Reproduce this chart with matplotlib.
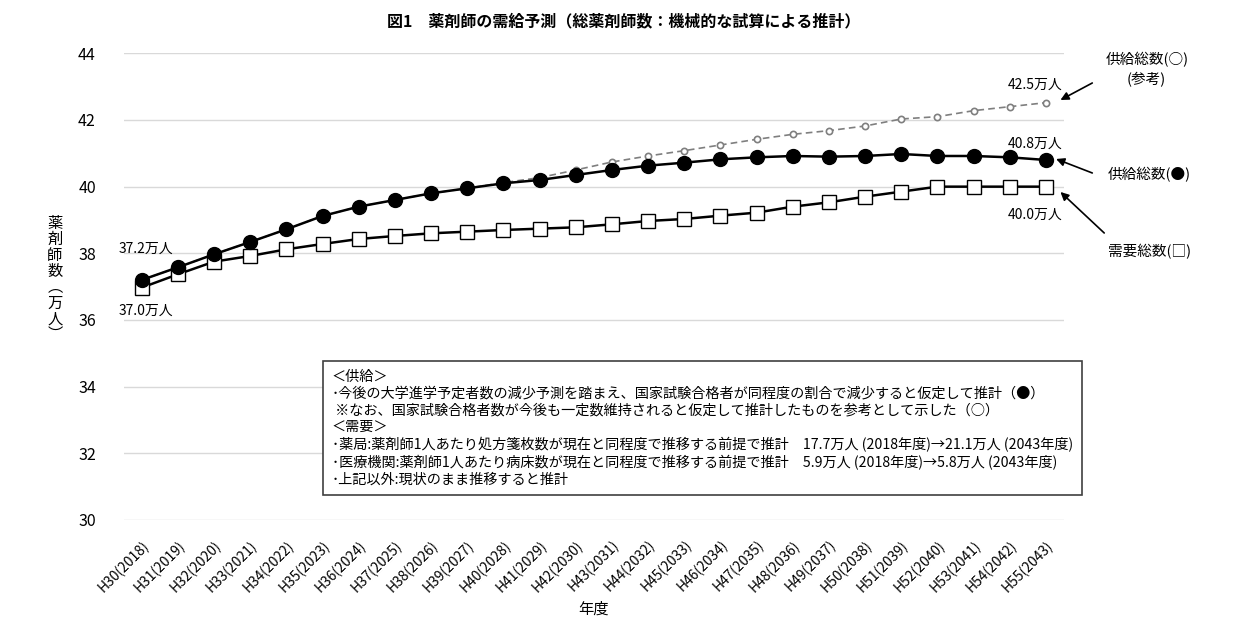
import numpy as np
import matplotlib
matplotlib.use("Agg")
import matplotlib.pyplot as plt

plt.rcParams["font.family"] = ["Noto Sans CJK JP", "DejaVu Sans"]

# データ（万人）
heisei = list(range(30, 56))
seireki = list(range(2018, 2044))
tick_labels = [f"H{h}({y})" for h, y in zip(heisei, seireki)]

supply = [37.2, 37.58, 37.97, 38.34, 38.72, 39.12, 39.40, 39.60, 39.80, 39.95,
          40.10, 40.20, 40.35, 40.50, 40.63, 40.72, 40.82, 40.88, 40.92, 40.90,
          40.92, 40.98, 40.92, 40.92, 40.88, 40.80]
supply_ref = [37.2, 37.58, 37.97, 38.34, 38.72, 39.12, 39.40, 39.60, 39.80, 39.95,
              40.12, 40.27, 40.50, 40.74, 40.92, 41.08, 41.25, 41.42, 41.57, 41.68,
              41.82, 42.03, 42.10, 42.28, 42.40, 42.52]
demand = [36.97, 37.37, 37.75, 37.92, 38.12, 38.28, 38.43, 38.52, 38.60, 38.65,
          38.70, 38.74, 38.78, 38.87, 38.97, 39.03, 39.13, 39.22, 39.40, 39.53,
          39.70, 39.85, 40.00, 40.00, 40.00, 40.00]

note_lines = [
    "＜供給＞",
    "･今後の大学進学予定者数の減少予測を踏まえ、国家試験合格者が同程度の割合で減少すると仮定して推計（●）",
    " ※なお、国家試験合格者数が今後も一定数維持されると仮定して推計したものを参考として示した（○）",
    "＜需要＞",
    "･薬局:薬剤師1人あたり処方箋枚数が現在と同程度で推移する前提で推計　17.7万人 (2018年度)→21.1万人 (2043年度)",
    "･医療機関:薬剤師1人あたり病床数が現在と同程度で推移する前提で推計　5.9万人 (2018年度)→5.8万人 (2043年度)",
    "･上記以外:現状のまま推移すると推計",
]

x = np.arange(len(tick_labels))
last = len(x) - 1

fig = plt.figure(figsize=(12.47, 6.2), dpi=100)
ax = fig.add_axes([0.0991, 0.1613, 0.7542, 0.7527])

# 線
ax.plot(x, demand, color="black", linewidth=1.8, marker="s", markersize=10,
        markerfacecolor="white", markeredgecolor="black", markeredgewidth=1.0, zorder=3)
ax.plot(x, supply_ref, color="#7f7f7f", linewidth=1.2, linestyle=(0, (4, 2.5)),
        marker="o", markersize=4.5, markerfacecolor="white",
        markeredgecolor="#7f7f7f", markeredgewidth=1.2, zorder=2)
ax.plot(x, supply, color="black", linewidth=1.8, marker="o", markersize=10,
        markerfacecolor="black", markeredgecolor="black", zorder=4)

ax.set_xlim(-0.5, len(x) - 0.5)
ax.set_ylim(30, 44)
ax.set_yticks(np.arange(30, 45, 2))
ax.set_xticks(x)
ax.set_xticklabels(tick_labels, rotation=45, ha="right", va="top",
                   rotation_mode="anchor", fontsize=10)
ax.tick_params(axis="both", length=0)
ax.tick_params(axis="x", pad=13)
ax.tick_params(axis="y", labelsize=11.5, pad=20)
ax.grid(axis="y", color="#d9d9d9", linewidth=1.0)
ax.set_axisbelow(True)
for s in ax.spines.values():
    s.set_visible(False)

ax.set_xlabel("年度", fontsize=11, labelpad=4)

# 縦書きのラベル
fig.text(0.044, 0.55, "\n".join("薬剤師数︵万人︶"), fontsize=11,
         ha="center", va="center", linespacing=0.92)

fig.text(0.5, 0.965, "図1　薬剤師の需給予測（総薬剤師数：機械的な試算による推計）",
         fontsize=11.5, fontweight="bold", ha="center", va="center")

# 数値ラベル
lab_kw = dict(fontsize=10, ha="center", va="center")
ax.text(0.12, supply[0] + 0.95, f"{supply[0]:.1f}万人", **lab_kw)
ax.text(0.12, demand[0] - 0.7, f"{demand[0]:.1f}万人", **lab_kw)
ax.text(last - 0.3, supply_ref[-1] + 0.55, f"{supply_ref[-1]:.1f}万人", **lab_kw)
ax.text(last - 0.3, supply[-1] + 0.5, f"{supply[-1]:.1f}万人", **lab_kw)
ax.text(last - 0.3, demand[-1] - 0.85, f"{demand[-1]:.1f}万人", **lab_kw)

# 右側の凡例テキストと矢印
side_kw = dict(fontsize=10, ha="center", va="center", annotation_clip=False)
arrow = dict(arrowstyle="-|>", color="black", lw=1.2, mutation_scale=12,
             shrinkA=0, shrinkB=0)
ax.annotate("", xy=(last + 0.4, supply_ref[-1] + 0.08), xytext=(last + 1.28, 43.11),
            arrowprops=arrow, **side_kw)
ax.annotate("", xy=(last + 0.28, supply[-1] + 0.03), xytext=(last + 1.28, 40.41),
            arrowprops=arrow, **side_kw)
ax.annotate("", xy=(last + 0.4, demand[-1] - 0.16), xytext=(last + 1.61, 38.61),
            arrowprops=arrow, **side_kw)
ax.text(last + 2.8, 43.8, "供給総数(○)", fontsize=10.5, ha="center", va="center")
ax.text(last + 2.78, 43.2, "(参考)", fontsize=10.5, ha="center", va="center")
ax.text(last + 2.86, 40.35, "供給総数(●)", fontsize=10.5, ha="center", va="center")
ax.text(last + 2.86, 38.04, "需要総数(□)", fontsize=10.5, ha="center", va="center")

# 注記ボックス
fig.text(0.2662, 0.404, "\n".join(note_lines), fontsize=10.2, ha="left", va="top",
         linespacing=1.25,
         bbox=dict(boxstyle="square,pad=0.6", facecolor="white",
                   edgecolor="#404040", linewidth=1.2))

fig.savefig("out.png", dpi=100)
